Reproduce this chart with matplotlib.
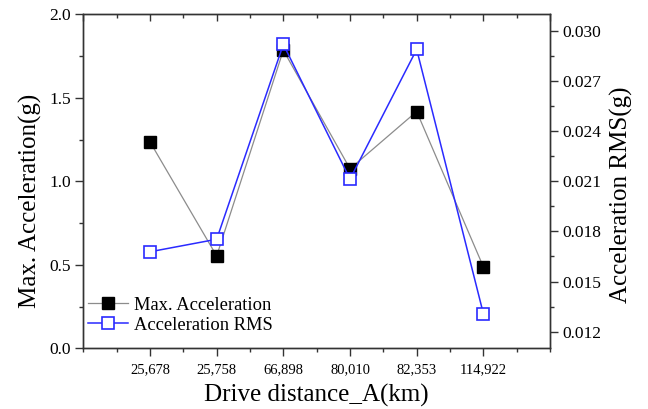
import numpy as np
import matplotlib
matplotlib.use("Agg")
import matplotlib.pyplot as plt
from matplotlib.ticker import MultipleLocator

# data
distances = ["25,678", "25,758", "66,898", "80,010", "82,353", "114,922"]
max_acc = [1.236, 0.553, 1.785, 1.075, 1.418, 0.488]
acc_rms = [0.01678, 0.01753, 0.0292, 0.02113, 0.0289, 0.01308]


def main():
    plt.rcParams['font.family'] = ['Liberation Serif', 'DejaVu Serif']

    fig = plt.figure(figsize=(6.48, 4.09), dpi=100)
    ax = fig.add_axes([0.1286, 0.1484, 0.7202, 0.8166])
    ax2 = ax.twinx()

    x = np.arange(1, len(distances) + 1)
    spine_col = '#333333'

    # left axis series
    l1, = ax.plot(x, max_acc, color='#8c8c8c', linewidth=0.9, marker='s',
                  markersize=8.5, markerfacecolor='black',
                  markeredgecolor='black', label='Max. Acceleration', zorder=3)
    # right axis series
    l2, = ax2.plot(x, acc_rms, color='#2a2aff', linewidth=1.1, marker='s',
                   markersize=8.5, markerfacecolor='white',
                   markeredgecolor='#2a2aff', markeredgewidth=1.2,
                   label='Acceleration RMS', zorder=3)

    ax.set_xlim(0, 7)
    ax.set_ylim(0.0, 2.0)
    ax2.set_ylim(0.011, 0.031)

    ax.set_xticks(x)
    ax.set_xticklabels(distances)
    ax.xaxis.set_minor_locator(MultipleLocator(0.5))
    ax.yaxis.set_major_locator(MultipleLocator(0.5))
    ax.yaxis.set_minor_locator(MultipleLocator(0.25))
    ax.yaxis.set_major_formatter(matplotlib.ticker.FormatStrFormatter('%.1f'))

    ax2.set_yticks([0.012, 0.015, 0.018, 0.021, 0.024, 0.027, 0.030])
    ax2.yaxis.set_minor_locator(MultipleLocator(0.0015))
    ax2.yaxis.set_major_formatter(matplotlib.ticker.FormatStrFormatter('%.3f'))

    # ticks: outward on left/bottom/right, inward on top
    ax.tick_params(axis='x', which='both', direction='out', bottom=True,
                   top=False, labelsize=10.5, colors=spine_col, labelcolor='black')
    ax.tick_params(axis='x', which='major', length=6, width=1, pad=5)
    ax.tick_params(axis='x', which='minor', length=3, width=1)
    ax.tick_params(axis='y', which='both', direction='out', labelsize=12.5,
                   colors=spine_col, labelcolor='black')
    ax.tick_params(axis='y', which='major', length=6, width=1, pad=3)
    ax.tick_params(axis='y', which='minor', length=3, width=1)
    ax2.tick_params(axis='y', which='both', direction='out', labelsize=12.5,
                    colors=spine_col, labelcolor='black')
    ax2.tick_params(axis='y', which='major', length=6, width=1, pad=3)
    ax2.tick_params(axis='y', which='minor', length=3, width=1)

    # mirrored top ticks pointing in
    top = ax.secondary_xaxis('top')
    top.set_xticks(np.arange(0, 8))
    top.xaxis.set_minor_locator(MultipleLocator(0.5))
    top.set_xticklabels([])
    top.tick_params(axis='x', which='both', direction='in', colors=spine_col)
    top.tick_params(axis='x', which='major', length=5, width=1)
    top.tick_params(axis='x', which='minor', length=3, width=1)
    top.spines['top'].set_visible(False)

    for a in (ax, ax2):
        for s in a.spines.values():
            s.set_color(spine_col)
            s.set_linewidth(1.0)

    ax.set_xlabel('Drive distance_A(km)', fontsize=18, labelpad=5)
    ax.set_ylabel('Max. Acceleration(g)', fontsize=18, labelpad=5)
    ax2.set_ylabel('Acceleration RMS(g)', fontsize=18, labelpad=6)
    # labels sit a little below the axis middle in the reference
    ax.yaxis.label.set_y(0.441)
    ax2.yaxis.label.set_y(0.459)

    ax.legend(handles=[l1, l2], loc='lower left',
              bbox_to_anchor=(-0.005, 0.022), frameon=False, fontsize=13.3,
              handlelength=2.15, handletextpad=0.3, labelspacing=0.15,
              borderaxespad=0.0)

    fig.savefig('out.png', dpi=100)


if __name__ == "__main__":
    main()
